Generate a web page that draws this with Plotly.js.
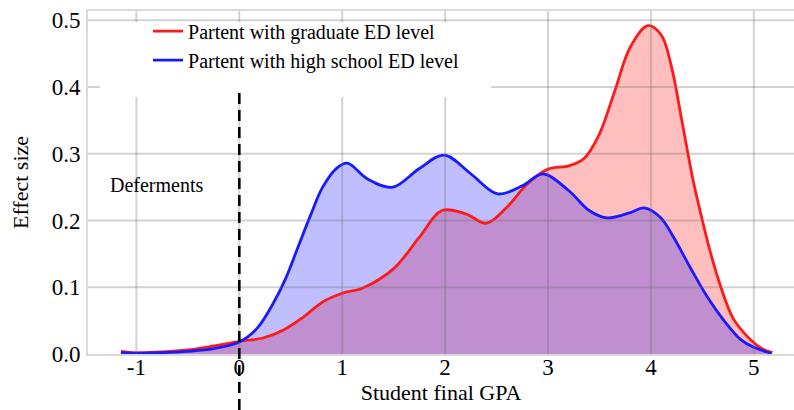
<!DOCTYPE html>
<html>
<head>
<meta charset="utf-8">
<script src="https://cdn.plot.ly/plotly-3.0.1.min.js"></script>
<style>html,body{margin:0;padding:0;background:#fff;}#chart{width:794px;height:410px;}</style>
</head>
<body>
<div id="chart"></div>
<script>
// Series names
var gradName = "Partent with graduate ED level";
var hsName = "Partent with high school ED level";

// Graduate ED level (red)
var gradX = [-1.15, -1.0, -0.75, -0.5, -0.25, 0, 0.23, 0.43, 0.62, 0.81, 1.0, 1.2, 1.5, 1.75, 1.97, 2.2, 2.4, 2.6, 2.8, 3.0, 3.2, 3.35, 3.5, 3.65, 3.8, 3.97, 4.1, 4.2, 4.3, 4.41, 4.5, 4.58, 4.68, 4.8, 4.97, 5.08, 5.18];
var gradY = [0.004, 0.002, 0.003, 0.006, 0.012, 0.019, 0.024, 0.036, 0.055, 0.078, 0.091, 0.099, 0.128, 0.175, 0.215, 0.21, 0.196, 0.22, 0.255, 0.277, 0.282, 0.293, 0.33, 0.395, 0.46, 0.492, 0.478, 0.43, 0.35, 0.26, 0.2, 0.151, 0.1, 0.053, 0.021, 0.008, 0.002];

// High school ED level (blue)
var hsX = [-1.15, -1.0, -0.75, -0.5, -0.25, 0, 0.17, 0.33, 0.45, 0.57, 0.69, 0.81, 0.95, 1.05, 1.25, 1.49, 1.75, 1.99, 2.25, 2.51, 2.75, 2.95, 3.2, 3.4, 3.57, 3.8, 3.93, 4.09, 4.22, 4.38, 4.55, 4.71, 4.87, 5.0, 5.17];
var hsY = [0.002, 0.001, 0.002, 0.004, 0.008, 0.018, 0.038, 0.076, 0.113, 0.16, 0.207, 0.25, 0.279, 0.286, 0.262, 0.25, 0.278, 0.298, 0.27, 0.24, 0.252, 0.27, 0.245, 0.215, 0.204, 0.212, 0.219, 0.205, 0.175, 0.13, 0.085, 0.05, 0.022, 0.01, 0.001];

// Axis ticks
var xTicks = [-1, 0, 1, 2, 3, 4, 5];
var yTicks = [0.0, 0.1, 0.2, 0.3, 0.4, 0.5];
var yTickText = ["0.0", "0.1", "0.2", "0.3", "0.4", "0.5"];

var deferX = -0.8, deferY = 0.253, deferText = "Deferments";
var cutoffX = 0;

var font = '"Liberation Serif", "Times New Roman", serif';
var gridColor = 'rgba(110,110,110,0.3)';

var traces = [
  {x: gradX, y: gradY, type: 'scatter', mode: 'lines', fill: 'tozeroy', fillcolor: 'rgba(255,0,0,0.25)',
   line: {width: 0, shape: 'spline', smoothing: 1}, showlegend: false, hoverinfo: 'skip'},
  {x: hsX, y: hsY, type: 'scatter', mode: 'lines', fill: 'tozeroy', fillcolor: 'rgba(0,0,255,0.25)',
   line: {width: 0, shape: 'spline', smoothing: 1}, showlegend: false, hoverinfo: 'skip'},
  {x: gradX, y: gradY, type: 'scatter', mode: 'lines', name: gradName,
   line: {color: '#ff1a1a', width: 2.8, shape: 'spline', smoothing: 1}},
  {x: hsX, y: hsY, type: 'scatter', mode: 'lines', name: hsName,
   line: {color: '#1a1aff', width: 2.8, shape: 'spline', smoothing: 1}}
];

var shapes = [];
xTicks.forEach(function (v) {
  shapes.push({type: 'line', xref: 'x', yref: 'paper', x0: v, x1: v, y0: 0, y1: 1, layer: 'above',
               line: {color: gridColor, width: 2}});
});
yTicks.slice(1).forEach(function (v) {
  shapes.push({type: 'line', xref: 'paper', yref: 'y', x0: 0, x1: 1, y0: v, y1: v, layer: 'above',
               line: {color: gridColor, width: 2}});
});
// white legend backdrop
shapes.push({type: 'rect', xref: 'paper', yref: 'y', x0: 0.017, x1: 0.571, y0: 0.385, y1: 0.497, layer: 'above',
             fillcolor: '#ffffff', line: {width: 0}});
// dashed cutoff
shapes.push({type: 'line', xref: 'x', yref: 'paper', x0: cutoffX, x1: cutoffX, y0: -0.163, y1: 0.7755, layer: 'above',
             line: {color: '#000000', width: 2.6, dash: '11px,6px'}});

var layout = {
  width: 794, height: 410,
  margin: {l: 88, r: 0, t: 11, b: 56, pad: 0},
  paper_bgcolor: '#ffffff', plot_bgcolor: '#ffffff',
  font: {family: font, size: 20, color: '#000'},
  xaxis: {range: [-1.47, 5.39], tickvals: xTicks, ticktext: xTicks.map(String), showgrid: false, zeroline: false,
          showline: true, mirror: true, linecolor: '#d9d9d9', linewidth: 2, ticks: '', ticklabelstandoff: -9,
          tickfont: {family: font, size: 23, color: '#000'},
          title: {text: 'Student final GPA', font: {family: font, size: 22, color: '#000'}, standoff: 4}},
  yaxis: {range: [0, 0.514], tickvals: yTicks, ticktext: yTickText, showgrid: false, zeroline: false,
          showline: true, linecolor: '#d9d9d9', linewidth: 2, ticks: '', ticklabelstandoff: 1,
          tickfont: {family: font, size: 23, color: '#000'},
          title: {text: 'Effect size', font: {family: font, size: 22, color: '#000'}, standoff: 17}},
  legend: {x: 0.085, y: 0.998, xanchor: 'left', yanchor: 'top', bgcolor: 'rgba(0,0,0,0)',
           font: {family: font, size: 20, color: '#000'}},
  shapes: shapes,
  annotations: [{x: deferX, y: deferY, xref: 'x', yref: 'y', text: deferText, showarrow: false,
                 font: {family: font, size: 20, color: '#000'}}]
};

Plotly.newPlot('chart', traces, layout, {displayModeBar: false, staticPlot: true});
</script>
</body>
</html>
